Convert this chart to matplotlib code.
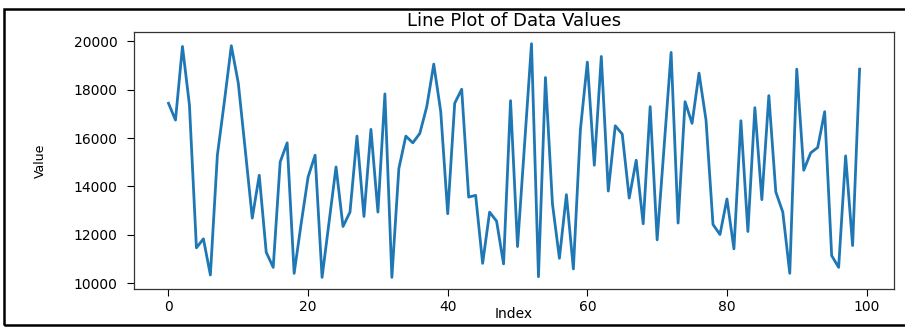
import matplotlib
matplotlib.use("Agg")
import matplotlib.pyplot as plt
from matplotlib.patches import Rectangle

# Data series plotted against its index
index = list(range(100))
values = [
    17440, 16745, 19792, 17369, 11455, 11829, 10333, 15291, 17500, 19821,
    18271, 15499, 12686, 14460, 11272, 10648, 15013, 15802, 10400, 12452,
    14390, 15291, 10233, 12520, 14805, 12340, 12935, 16080, 12755, 16359,
    12935, 17826, 10233, 14738, 16080, 15802, 16192, 17300, 19061, 17092,
    12868, 17440, 18021, 13558, 13628, 10815, 12935, 12560, 10790, 17548,
    11509, 15706, 19904, 10262, 18505, 13283, 11023, 13657, 10582, 16330,
    19144, 14875, 19377, 13807, 16509, 16164, 13516, 15083, 12452, 17300,
    11787, 15652, 19543, 12480, 17507, 16608, 18687, 16745, 12423, 12008,
    13479, 11413, 16717, 12132, 17257, 13450, 17756, 13766, 12935, 10400,
    18853, 14667, 15387, 15610, 17092, 11135, 10648, 15262, 11550, 18853,
]

title = "Line Plot of Data Values"
x_label = "Index"
y_label = "Value"

fig = plt.figure(figsize=(9.05, 3.27), dpi=100)
fig.subplots_adjust(left=0.148, right=0.988, bottom=0.116, top=0.902)
ax = fig.add_subplot(111)

ax.plot(index, values, color="#1f77b4", linewidth=2.0)

ax.set_xticks([0, 20, 40, 60, 80, 100])
ax.set_yticks([10000, 12000, 14000, 16000, 18000, 20000])
ax.tick_params(axis="both", labelsize=10, length=5, width=0.8)
ax.tick_params(axis="y", pad=7)
ax.tick_params(axis="x", pad=3)

ax.set_title(title, fontsize=13, pad=4)
ax.set_xlabel(x_label, fontsize=10)
ax.set_ylabel(y_label, fontsize=9)
ax.xaxis.set_label_coords(0.5, -0.07)
ax.yaxis.set_label_coords(-0.1145, 0.5)

for spine in ax.spines.values():
    spine.set_linewidth(0.9)
    spine.set_color("#333333")

# Outer frame around the figure (open on the right edge)
frame = Rectangle((0.0045, 0.006), 1.02, 0.968, transform=fig.transFigure,
                  fill=False, edgecolor="black", linewidth=1.8, clip_on=False)
fig.patches.append(frame)

fig.savefig("out.png", dpi=100)
